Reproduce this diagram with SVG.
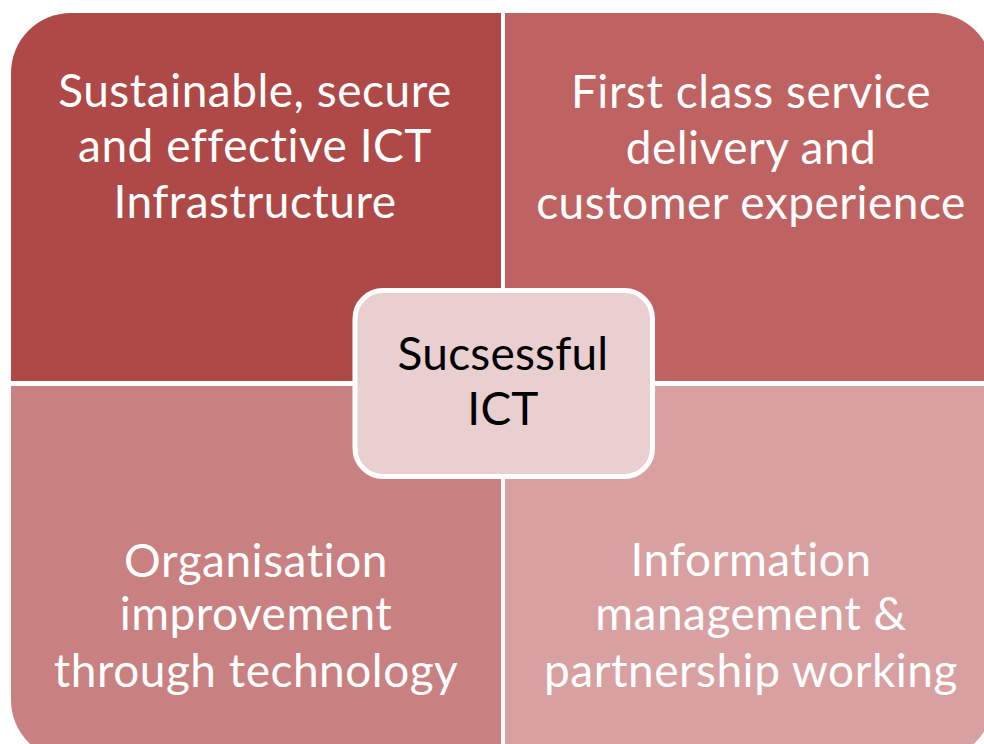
<svg xmlns="http://www.w3.org/2000/svg" width="984" height="744" viewBox="0 0 984 744">
<style>
text{font-family:Lato,"Open Sans","Liberation Sans",sans-serif;font-size:46px;letter-spacing:0.5px;text-anchor:middle;font-variant-ligatures:none;font-feature-settings:"liga" 0,"dlig" 0}
.q text{fill:#ffffff}
.c text{fill:#000000;letter-spacing:0.2px}
</style>
<rect width="984" height="744" fill="#ffffff"/>
<g id="tl" class="q">
<path d="M11,73 A60,60 0 0 1 71,13 L501,13 L501,381 L11,381 Z" fill="#AE4947"/>
<text x="255" y="107">Sustainable, secure</text>
<text x="255" y="162">and effective ICT</text>
<text x="255" y="218">Infrastructure</text>
</g>
<g id="tr" class="q">
<path d="M505,13 L933,13 A60,60 0 0 1 993,73 L993,381 L505,381 Z" fill="#BE6361"/>
<text x="751" y="108">First class service</text>
<text x="751" y="164">delivery and</text>
<text x="751" y="219">customer experience</text>
</g>
<g id="bl" class="q">
<path d="M11,386 L501,386 L501,760 L71,760 A60,60 0 0 1 11,700 Z" fill="#C98080"/>
<text x="256" y="577">Organisation</text>
<text x="256" y="630">improvement</text>
<text x="256" y="687">through technology</text>
</g>
<g id="br" class="q">
<path d="M505,386 L993,386 L993,700 A60,60 0 0 1 933,760 L505,760 Z" fill="#D8A0A1"/>
<text x="751" y="576">Information</text>
<text x="751" y="630">management &amp;</text>
<text x="751" y="687">partnership working</text>
</g>
<g id="center" class="c">
<rect x="355" y="290.5" width="297.5" height="186" rx="28" fill="#E9CFD0" stroke="#ffffff" stroke-width="5"/>
<text x="503" y="370">Sucsessful</text>
<text x="503" y="425">ICT</text>
</g>
<g id="connectors"/>
</svg>
